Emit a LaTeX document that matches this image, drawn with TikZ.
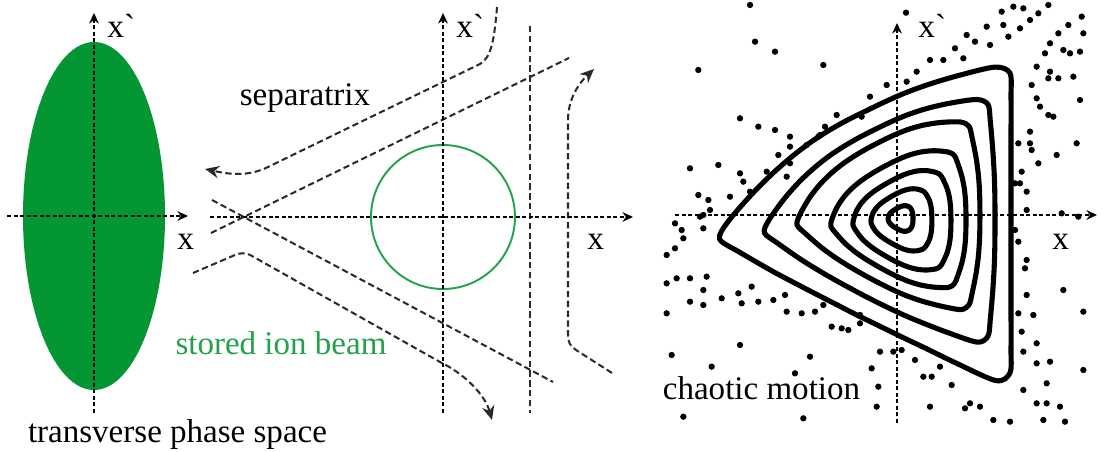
\documentclass[tikz,border=0pt]{standalone}
\usepackage{fontspec}
\setmainfont{Liberation Serif}
\newfontfamily\labelfont{Liberation Serif}[Ligatures=TeX]
\newfontfamily\axisfont{Liberation Serif}
\usetikzlibrary{arrows.meta}
\definecolor{beamfill}{HTML}{039633}
\definecolor{beamline}{HTML}{22A24A}
\definecolor{sepgray}{HTML}{2A2A2A}
% outer orbit: polar radii (px) about its centre, at the angles below
\def\orbang{{0,10,20,30,40,50,55,60,70,80,90,100,110,120,130,140,150,160,170,180,185,190,200,210,220,230,240,250,260,270,280,290,300,305,310,320,330,340,350}}
\def\orbrad{{106,107.6,112.8,122.4,138.4,164.9,183,180,157,141,130,122.5,118.5,118,120,124.5,131.5,142,157,178,186,168,141,123.5,112.7,106.5,104,104.4,108,115.5,128,149,182,183,164.9,138.4,122.4,112.8,107.6}}
\tikzset{
  phaseaxis/.style={line width=0.85pt, dash pattern=on 2.4pt off 1.3pt,
    -{Stealth[length=6pt,width=5.5pt]}},
  seppath/.style={draw=sepgray, line width=1.15pt, dash pattern=on 3.6pt off 2pt},
  separrow/.style={seppath, -{Stealth[length=8pt,width=7pt]}},
  orbit/.style={line width=2.9pt},
  chaosdot/.style={radius=1.8pt},
  axislbl/.style={font=\axisfont\fontsize{19}{22}\selectfont, inner sep=0pt, anchor=base west},
  textlbl/.style={font=\labelfont\fontsize{18.8}{22}\selectfont, inner sep=0pt, anchor=base}
}

\begin{document}
\begin{tikzpicture}[x=0.02cm, y=-0.02cm]
\fill[white] (0,0) rectangle (1103,452);
\useasboundingbox (0,0) rectangle (1103,452);

% left panel: beam ellipse
\fill[beamfill] (94,216) ellipse [x radius=71, y radius=174];
\coordinate (l-xs) at (7,216);
\coordinate (l-xe) at (188,216);
\coordinate (l-ys) at (94,413);
\coordinate (l-ye) at (94,13);
\draw[phaseaxis] (l-xs) -- (l-xe);
\draw[phaseaxis] (l-ys) -- (l-ye);
\node[axislbl] (l-yl) at (107,38) {x`};
\node[axislbl] (l-xl) at (177,250) {x};
\node[textlbl] (phase) at (177.5,443) {transverse phase space};

% middle panel: separatrix
\coordinate (m-xs) at (210,217);
\coordinate (m-xe) at (633,217);
\coordinate (m-ys) at (443,413);
\coordinate (m-ye) at (443,13);
\coordinate (sa1) at (211,233);
\coordinate (sa2) at (569,58);
\coordinate (sb1) at (212,200);
\coordinate (sb2) at (553,382);
\coordinate (sv1) at (530,26);
\coordinate (sv2) at (530,413);
\draw[seppath] (sa1) -- (sa2);
\draw[seppath] (sb1) -- (sb2);
\draw[seppath] (sv1) -- (sv2);
\coordinate (ul1) at (497,7);
\coordinate (ul2) at (205,169);
\draw[separrow] (ul1) .. controls (494,45) and (490,58) .. (480,64)
  -- (268,167) .. controls (250,176) and (232,175) .. (ul2);
\coordinate (ll1) at (193,273);
\coordinate (ll2) at (492,420);
\draw[separrow] (ll1) -- (235,255) .. controls (240,253) and (245,252) .. (252,256)
  -- (440,362) .. controls (465,374) and (485,395) .. (ll2);
\coordinate (rr1) at (612,373);
\coordinate (rr2) at (594,69);
\draw[separrow] (rr1) -- (576,350) .. controls (570,346) and (568,342) .. (568,335)
  -- (568,120) .. controls (568,100) and (578,84) .. (rr2);
\draw[beamline, line width=1.1pt] (443,217) circle [radius=72];
\draw[phaseaxis] (m-xs) -- (m-xe);
\draw[phaseaxis] (m-ys) -- (m-ye);
\node[axislbl] (m-yl) at (456,38) {x`};
\node[axislbl] (m-xl) at (587,250) {x};
\node[textlbl] (sepx) at (305,106) {separatrix};
\node[textlbl, text=beamline] (beam) at (281,355) {stored ion beam};

% right panel: distorted orbits and chaotic points
\foreach \sc/\w/\cx/\cy in {0.095/0/901.8/218.5, 0.23/0.1/905/220, 0.366/0.2/908.6/220.6,
  0.497/0.35/909.4/219.6, 0.658/0.55/906.6/215.5, 0.81/0.78/907/220.3, 1/1/905/223}
  \draw[orbit] plot[smooth cycle, tension=0.5, variable=\j, samples at={0,...,38}]
    ({\cx+\sc*(\w*\orbrad[\j]+(1-\w)*130/(1+0.1*cos(3*\orbang[\j])))*cos(\orbang[\j])},
     {\cy-\sc*(\w*\orbrad[\j]+(1-\w)*130/(1+0.1*cos(3*\orbang[\j])))*sin(\orbang[\j])});
\foreach \u/\v in {300/15, 768/38, 315/125, 375/155, 145/210, 520/195, 1055/35,
  1090/20, 1120/25, 1195/15, 1295/50, 1165/40, 1140/60, 1255/75, 1300/100,
  1225/100, 1075/110, 1110/85, 1010/80, 1060/75, 950/105, 975/125, 1020/135,
  915/145, 880/180, 840/180, 800/215, 940/175, 1200/130, 1185/160, 1240/150,
  1260/160, 1290/155, 1160/200, 1200/215, 1225/235, 1195/235, 1270/230,
  1145/255, 1160/295, 1170/320, 1195/345, 1210/350, 1290/300, 1140/395,
  1105/430, 1140/430, 1145/450, 1280/430, 1220/465, 1165/490, 1115/515,
  1095/550, 1110/550, 1130/575, 1130/630, 1235/640, 1285/650, 770/245,
  710/255, 660/290, 635/350, 560/345, 525/380, 505/410, 470/435, 420/410,
  420/440, 375/390, 325/380, 270/355, 350/515, 270/520, 280/545, 300/575,
  240/590, 205/495, 120/505, 145/585, 175/600, 180/630, 150/650, 75/670,
  95/690, 100/715, 75/745, 50/765, 160/685, 385/465, 420/490, 410/530,
  510/405, 50/850, 80/835, 120/835, 170/830, 160/870, 120/905, 160/915,
  215/895, 265/880, 275/910, 305/860, 325/905, 370/900, 405/885, 410/935,
  455/940, 495/935, 50/940, 65/1065, 185/1100, 270/1035, 100/1250, 460/1255,
  435/1120, 480/1070, 520/915, 545/980, 575/985, 595/990, 630/945, 630/970,
  690/1055, 730/1055, 755/1050, 665/1105, 685/1160, 680/1220, 795/1080,
  820/1130, 845/1130, 870/1100, 905/1155, 840/1220, 945/1225, 960/1210,
  990/1220, 1030/1260, 1080/1265, 1120/1170, 1160/1210, 1190/1210, 1230/1220,
  1180/1260, 1245/1265, 1190/1150, 1200/1085, 1160/1090, 1120/1055, 1160/1030,
  1115/995, 1150/945, 1105/940, 1300/935, 1300/1110, 1240/870, 1130/885,
  1130/780, 1105/725, 1095/690, 1125/805, 160/645}
  \fill[chaosdot] ({650+\u/3},{\v/3}) circle;
\coordinate (r-xs) at (675,215);
\coordinate (r-xe) at (1097,215);
\coordinate (r-ys) at (897,423);
\coordinate (r-ye) at (897,23);
\draw[phaseaxis] (r-xs) -- (r-xe);
\draw[phaseaxis] (r-ys) -- (r-ye);
\node[axislbl] (r-yl) at (918,38) {x`};
\node[axislbl] (r-xl) at (1052,250) {x};
\node[textlbl] (chaos) at (761.5,400) {chaotic motion};
\end{tikzpicture}
\end{document}
